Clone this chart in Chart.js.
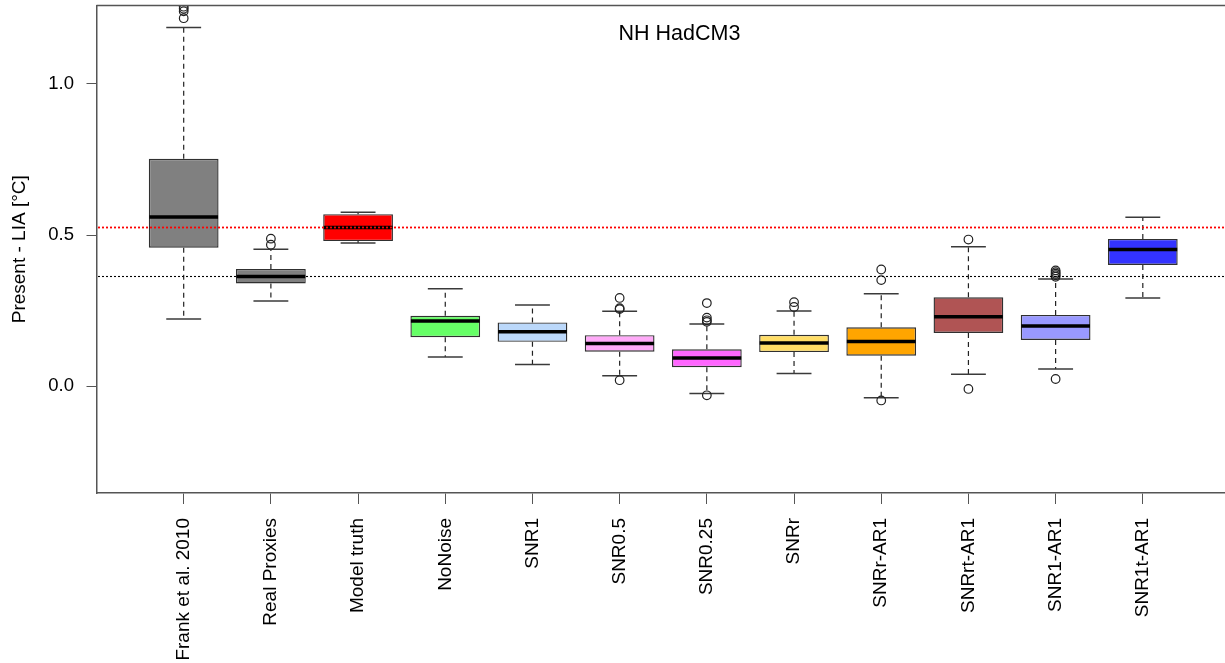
<!DOCTYPE html>
<html>
<head>
<meta charset="utf-8">
<script src="https://cdn.jsdelivr.net/npm/chart.js@4.4.1/dist/chart.umd.min.js"></script>
<style>
  html, body { margin: 0; padding: 0; background: #ffffff; overflow: hidden; width: 1225px; height: 663px; }
  #wrap { position: relative; width: 1240px; height: 663px; }
  canvas { display: block; }
</style>
</head>
<body>
<div id="wrap"><canvas id="chart" width="1240" height="663"></canvas></div>
<script>
// Reconstruction experiments: Present minus LIA temperature difference
const categories = ["Frank et al. 2010", "Real Proxies", "Model truth", "NoNoise", "SNR1", "SNR0.5",
                    "SNR0.25", "SNRr", "SNRr-AR1", "SNRrt-AR1", "SNR1-AR1", "SNR1t-AR1"];
const whiskerLow    = [0.222, 0.282, 0.474, 0.097, 0.072, 0.035, -0.024, 0.042, -0.038, 0.040, 0.057, 0.292];
const lowerQuartile = [0.458, 0.340, 0.480, 0.162, 0.147, 0.114,  0.063, 0.113,  0.101, 0.176, 0.153, 0.401];
const medianValue   = [0.560, 0.363, 0.525, 0.216, 0.180, 0.141,  0.093, 0.143,  0.148, 0.230, 0.199, 0.452];
const upperQuartile = [0.752, 0.388, 0.569, 0.233, 0.211, 0.169,  0.122, 0.170,  0.195, 0.294, 0.236, 0.487];
const whiskerHigh   = [1.186, 0.453, 0.575, 0.322, 0.269, 0.248,  0.206, 0.249,  0.306, 0.461, 0.355, 0.559];
const outlierValues = [
  [1.217, 1.240, 1.248, 1.255],
  [0.468, 0.488],
  [],
  [],
  [],
  [0.020, 0.255, 0.258, 0.292],
  [-0.030, 0.213, 0.218, 0.227, 0.275],
  [0.262, 0.278],
  [-0.047, 0.351, 0.386],
  [-0.009, 0.485],
  [0.024, 0.362, 0.367, 0.372, 0.377, 0.383],
  []
];
const yTickValues = [0.0, 0.5, 1.0];
const boxColors = ["#808080", "#808080", "#ff0000", "#66ff66", "#bbd8fa", "#ffaaf8",
                   "#ff66ff", "#ffdd66", "#ffa500", "#b05454", "#9999ff", "#3333ff"];

// Horizontal guides at the medians of the model truth and the real proxies
const guideLines = [
  { value: medianValue[2], color: "#ff0000", height: 1.8 },
  { value: medianValue[1], color: "#000000", height: 1.1 }
];
const chartTitle = "NH HadCM3";

const FONT = "'Liberation Sans', Arial, Helvetica, sans-serif";
Chart.defaults.font.family = FONT;
Chart.defaults.color = "#000000";

const boxData = categories.map((c, i) => ({ x: i + 1, y: [lowerQuartile[i], upperQuartile[i]] }));
const outlierData = [];
outlierValues.forEach((vals, i) => vals.forEach(v => outlierData.push({ x: i + 1, y: v })));

function seg(ctx, x1, y1, x2, y2) {
  ctx.beginPath();
  ctx.moveTo(x1, y1);
  ctx.lineTo(x2, y2);
  ctx.stroke();
}

const boxplotParts = {
  id: "boxplotParts",
  beforeDatasetsDraw(chart) {
    const { ctx, scales: { x, y } } = chart;
    const bars = chart.getDatasetMeta(0).data;
    ctx.save();
    bars.forEach((bar, i) => {
      const cx = x.getPixelForValue(i + 1);
      const capHalf = bar.width / 4;
      const pLo = y.getPixelForValue(whiskerLow[i]);
      const pQ1 = y.getPixelForValue(lowerQuartile[i]);
      const pQ3 = y.getPixelForValue(upperQuartile[i]);
      const pHi = y.getPixelForValue(whiskerHigh[i]);
      ctx.strokeStyle = "#222222";
      ctx.lineWidth = 1.2;
      ctx.setLineDash([5, 4]);
      seg(ctx, cx, pQ3, cx, pHi);
      seg(ctx, cx, pQ1, cx, pLo);
      ctx.setLineDash([]);
      ctx.strokeStyle = "#3a3a3a";
      ctx.lineWidth = 1.5;
      seg(ctx, cx - capHalf, pHi, cx + capHalf, pHi);
      seg(ctx, cx - capHalf, pLo, cx + capHalf, pLo);
    });
    ctx.restore();
  },
  afterDatasetDraw(chart, args) {
    if (args.index !== 0) return;
    const { ctx, scales: { x, y } } = chart;
    ctx.save();
    chart.getDatasetMeta(0).data.forEach((bar, i) => {
      const cx = x.getPixelForValue(i + 1);
      const half = bar.width / 2 - 0.5;
      const pm = y.getPixelForValue(medianValue[i]);
      ctx.strokeStyle = "#000000";
      ctx.lineWidth = 3.5;
      seg(ctx, cx - half, pm, cx + half, pm);
    });
    ctx.restore();
  },
  afterDatasetsDraw(chart) {
    const { ctx, chartArea, scales: { y } } = chart;
    // dotted guide lines
    guideLines.forEach(g => {
      ctx.save();
      const py = Math.round(y.getPixelForValue(g.value)) + 0.5 - g.height / 2;
      ctx.fillStyle = g.color;
      for (let px = Math.ceil(chartArea.left) + 1; px < chartArea.right; px += 4) {
        ctx.fillRect(px, py, 2, g.height);
      }
      ctx.restore();
    });
    ctx.save();
    // top edge of the frame
    ctx.strokeStyle = "#555555";
    ctx.lineWidth = 1.5;
    seg(ctx, chartArea.left, chartArea.top, chartArea.right, chartArea.top);
    seg(ctx, chartArea.right, chartArea.top, chartArea.right, chartArea.bottom);
    // panel title
    ctx.fillStyle = "#000000";
    ctx.font = "21.5px " + FONT;
    ctx.textAlign = "center";
    ctx.textBaseline = "alphabetic";
    ctx.fillText(chartTitle, chartArea.left + 583, 39.5);
    ctx.restore();
  }
};

new Chart(document.getElementById("chart"), {
  type: "bar",
  data: {
    datasets: [
      {
        type: "bar",
        data: boxData,
        backgroundColor: boxColors,
        borderColor: "#303030",
        borderWidth: 1.4,
        borderSkipped: false,
        barPercentage: 0.8,
        categoryPercentage: 1.0,
        order: 2
      },
      {
        type: "scatter",
        data: outlierData,
        pointStyle: "circle",
        pointRadius: 4.3,
        pointBackgroundColor: "rgba(0,0,0,0)",
        pointBorderColor: "#222222",
        pointBorderWidth: 1.2,
        showLine: false,
        order: 1
      }
    ]
  },
  options: {
    responsive: false,
    animation: false,
    devicePixelRatio: 1,
    layout: { padding: { top: 3, right: 10, left: 0, bottom: 0 } },
    plugins: { legend: { display: false }, tooltip: { enabled: false }, title: { display: false } },
    scales: {
      x: {
        type: "linear",
        min: 0,
        max: 13,
        offset: false,
        afterFit: s => { s.height = 170; s.paddingLeft = 0; s.paddingRight = 0; },
        afterBuildTicks: s => { s.ticks = categories.map((c, i) => ({ value: i + 1 })); },
        grid: { drawOnChartArea: false, drawTicks: true, tickLength: 11, tickColor: "#555555", offset: false },
        border: { display: true, color: "#555555", width: 1.5 },
        ticks: {
          autoSkip: false,
          minRotation: 90,
          maxRotation: 90,
          padding: 14,
          font: { size: 19 },
          color: "#000000",
          callback: v => categories[Math.round(v) - 1]
        }
      },
      y: {
        type: "linear",
        min: -0.353,
        max: 1.259,
        afterFit: s => { s.width = 96.5; s.paddingTop = 0; s.paddingBottom = 0; },
        afterBuildTicks: s => { s.ticks = yTickValues.map(v => ({ value: v })); },
        grid: { drawOnChartArea: false, drawTicks: true, tickLength: 10, tickColor: "#555555" },
        border: { display: true, color: "#555555", width: 1.5 },
        ticks: { padding: 12.5, font: { size: 18.5 }, color: "#000000", callback: v => Number(v).toFixed(1) },
        title: { display: true, text: "Present - LIA [°C]", font: { size: 19 }, color: "#000000", padding: { top: 8.5, bottom: 0 } }
      }
    }
  },
  plugins: [boxplotParts]
});
</script>
</body>
</html>
